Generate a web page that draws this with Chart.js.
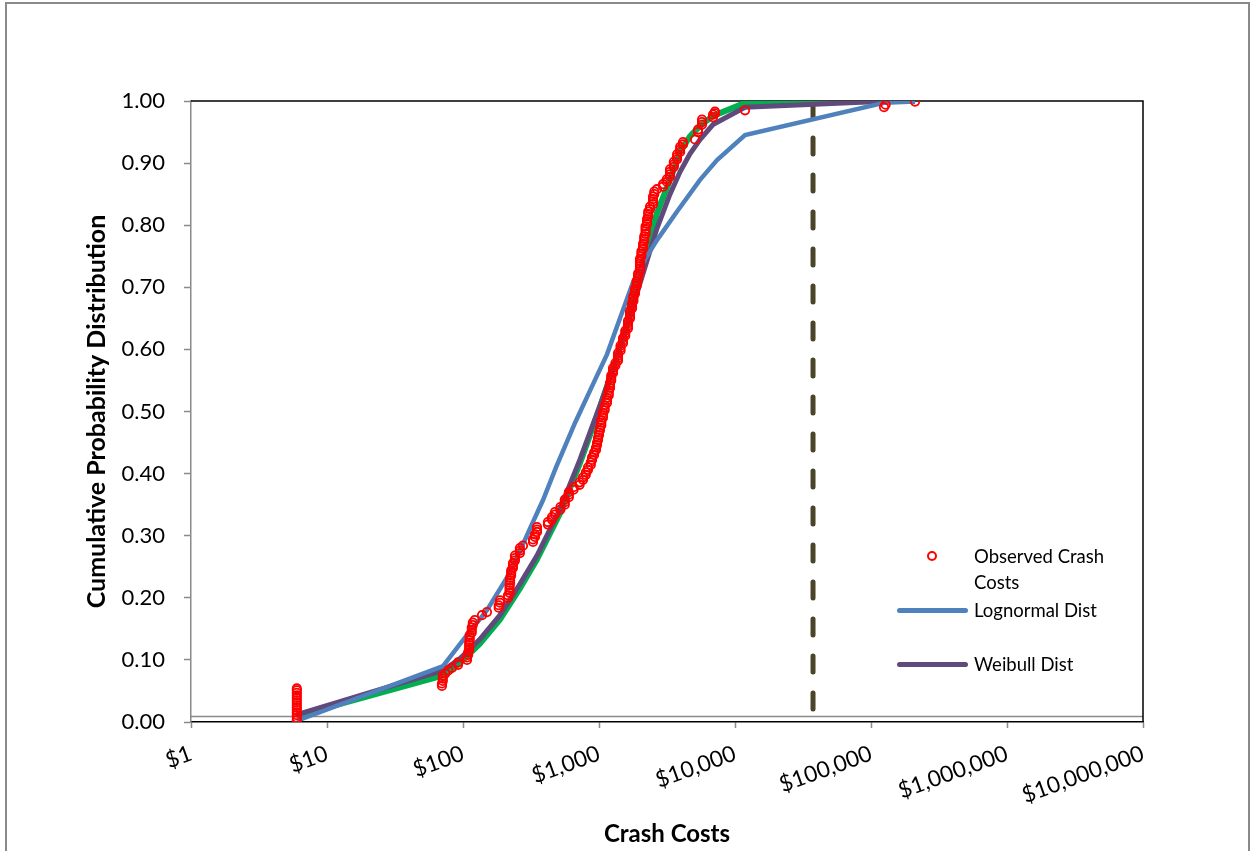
<!DOCTYPE html>
<html>
<head>
<meta charset="utf-8">
<script src="https://cdn.jsdelivr.net/npm/chart.js@4.4.1/dist/chart.umd.min.js"></script>
<style>
  html, body { margin: 0; padding: 0; background: #fff; }
  #wrap { position: relative; width: 1253px; height: 851px; overflow: hidden; font-family: Lato, "Open Sans", sans-serif; }
  #frame { position: absolute; left: 5px; top: 2px; width: 1245px; height: 900px; border: 2px solid #8a8a8a; box-sizing: border-box; pointer-events: none; }
  canvas { position: absolute; left: 0; top: 0; }
  .lg { position: absolute; font-size: 18.5px; color: #000; line-height: 26px; white-space: nowrap; }
  .sw { position: absolute; height: 5px; border-radius: 3px; }
  .dot { position: absolute; width: 6px; height: 6px; border: 2px solid #ff0000; border-radius: 50%; }
</style>
</head>
<body>
<div id="wrap">
  <canvas id="c" width="1253" height="851"></canvas>
  <div id="frame"></div>
  <div class="dot" style="left:927px; top:551px;"></div>
  <div class="lg" style="left:974px; top:543px;">Observed Crash<br>Costs</div>
  <div class="sw" style="left:897px; top:608px; width:71px; background:#4F81BD;"></div>
  <div class="lg" style="left:974px; top:597px;">Lognormal Dist</div>
  <div class="sw" style="left:897px; top:662px; width:71px; background:#604A7B;"></div>
  <div class="lg" style="left:974px; top:651px;">Weibull Dist</div>
</div>
<script>
// ---- tick values ----
const xTickValues = [1, 10, 100, 1000, 10000, 100000, 1000000, 10000000];

// ---- observed crash costs (sorted) ----
const obsCost = [
  6,6,6,6,6,6,6,6,6,6,6,6,6,6,
  70,70,71,71,71,74,78,83,92,92,107,107,109,109,
  111,111,111,111,112,112,112,116,116,116,118,118,122,138,150,
  183,183,187,187,214,214,220,220,220,220,222,222,222,226,226,226,
  233,233,233,241,241,241,262,262,262,276,327,327,338,338,350,350,350,
  421,421,451,451,474,474,520,520,560,560,560,600,600,600,650,650,
  720,720,763,763,800,800,830,830,870,870,889,889,920,920,950,950,
  967,967,984,984,1000,1000,1017,1017,1040,1040,1040,1069,1069,1069,
  1100,1100,1100,1145,1145,1145,1180,1180,1180,1205,1205,1205,1230,1230,1230,
  1268,1268,1268,1320,1320,1380,1380,1380,1380,1440,1440,1440,1501,1501,1501,
  1560,1560,1560,1634,1634,1634,1634,1690,1690,1690,1690,1749,1749,1749,
  1790,1790,1790,1840,1840,1840,1890,1890,1890,1936,1936,1936,
  2001,2001,2001,2001,2001,2001,2050,2050,2050,2107,2107,2107,2150,2150,2150,
  2200,2200,2200,2200,2254,2254,2254,2300,2300,2300,2371,2371,
  2495,2495,2495,2495,2550,2550,2669,2955,2955,3150,3150,
  3327,3327,3327,3327,3550,3550,3550,3749,3749,3749,3950,3950,3950,4148,4148,
  5084,5349,5349,5719,5719,5719,6890,6890,7129,7129,11850,124700,128000,210800
];
const obsProb = [
  0.003,0.007,0.011,0.015,0.019,0.023,0.027,0.031,0.035,0.039,0.043,0.047,0.051,0.054,
  0.058,0.062,0.066,0.070,0.074,0.078,0.083,0.087,0.092,0.096,0.100,0.104,0.108,0.112,
  0.116,0.120,0.124,0.128,0.132,0.136,0.140,0.144,0.148,0.152,0.156,0.160,0.164,0.172,0.177,
  0.184,0.188,0.192,0.196,0.200,0.204,0.208,0.212,0.216,0.220,0.224,0.228,0.232,0.236,0.240,0.244,
  0.248,0.252,0.256,0.260,0.264,0.268,0.272,0.276,0.280,0.284,0.290,0.294,0.298,0.302,0.306,0.310,0.314,
  0.318,0.322,0.326,0.330,0.334,0.338,0.342,0.346,0.350,0.354,0.358,0.362,0.366,0.370,0.374,0.378,
  0.382,0.386,0.390,0.394,0.398,0.402,0.406,0.410,0.414,0.418,0.422,0.426,0.430,0.434,0.438,0.442,
  0.446,0.450,0.454,0.458,0.462,0.466,0.470,0.474,0.478,0.482,0.486,0.490,0.494,0.498,
  0.502,0.506,0.510,0.514,0.518,0.522,0.526,0.530,0.534,0.538,0.542,0.546,0.550,0.554,0.558,
  0.562,0.566,0.570,0.574,0.578,0.582,0.586,0.590,0.594,0.598,0.602,0.606,0.610,0.614,0.618,
  0.622,0.626,0.630,0.634,0.638,0.642,0.646,0.650,0.654,0.658,0.662,0.666,0.670,0.674,
  0.678,0.682,0.686,0.690,0.694,0.698,0.702,0.706,0.710,0.714,0.718,0.722,
  0.726,0.730,0.734,0.738,0.742,0.746,0.750,0.754,0.758,0.762,0.766,0.770,0.774,0.778,0.782,
  0.786,0.790,0.794,0.798,0.802,0.806,0.810,0.814,0.818,0.822,0.826,0.830,
  0.834,0.838,0.842,0.846,0.850,0.854,0.858,0.862,0.866,0.870,0.874,
  0.878,0.882,0.886,0.890,0.894,0.898,0.902,0.906,0.910,0.914,0.918,0.922,0.926,0.930,0.934,
  0.938,0.950,0.954,0.962,0.966,0.970,0.974,0.978,0.980,0.983,0.985,0.990,0.994,0.999
];

// ---- fitted distributions ----
const lognormCost = [6,71.3,100,150,211,262,316,387,483,667,935,1145,1427,1778,2179,2669,3749,5530,7379,11850,124700,210800];
const lognormProb = [0.002,0.090,0.132,0.180,0.233,0.275,0.315,0.357,0.410,0.482,0.551,0.592,0.650,0.708,0.745,0.776,0.822,0.873,0.905,0.945,0.997,0.999];

const fitCost = [6,71.3,95,133,187,262,350,517,725,1017,1311,1607,2107,2669,3327,3945,4667,5530,6890,11850,124700,210800];
const gammaProb   = [0.010,0.075,0.095,0.126,0.165,0.215,0.262,0.336,0.417,0.507,0.578,0.643,0.739,0.820,0.873,0.918,0.943,0.960,0.976,0.997,1.000,1.000];
const weibullProb = [0.012,0.083,0.102,0.133,0.172,0.222,0.268,0.343,0.423,0.510,0.578,0.638,0.722,0.795,0.850,0.886,0.915,0.938,0.962,0.990,0.9995,1.000];

// ---- reference threshold (dashed vertical) ----
const thresholdCost = 37470;
const thresholdProb = [1, 0];

const pts = (xs, ys) => xs.map((x, i) => ({ x: x, y: ys[i] }));

const framePlugin = {
  id: 'frame',
  beforeDatasetsDraw(chart) {
    const { ctx, chartArea: a, scales } = chart;
    ctx.save();
    ctx.strokeStyle = '#8a8a8a';
    ctx.lineWidth = 1.5;
    const yg = Math.round(scales.y.getPixelForValue(0.0095)) + 0.5;
    ctx.beginPath(); ctx.moveTo(a.left, yg); ctx.lineTo(a.right, yg); ctx.stroke();
    ctx.strokeStyle = '#000';
    ctx.lineWidth = 1.5;
    ctx.beginPath();
    ctx.moveTo(a.left, a.top); ctx.lineTo(a.right, a.top); ctx.lineTo(a.right, a.bottom);
    ctx.stroke();
    ctx.restore();
  }
};

const FONT = 'Lato, "Open Sans", sans-serif';

new Chart(document.getElementById('c'), {
  type: 'scatter',
  data: {
    datasets: [
      { label: 'Observed Crash Costs', data: pts(obsCost, obsProb), showLine: false,
        pointStyle: 'circle', pointRadius: 4.2, pointBorderWidth: 1.8,
        borderColor: '#ff0000', backgroundColor: 'rgba(0,0,0,0)', order: 0 },
      { label: 'Lognormal Dist', data: pts(lognormCost, lognormProb), showLine: true,
        borderColor: '#4F81BD', borderWidth: 4.5, pointRadius: 0, tension: 0, order: 1 },
      { label: 'Weibull Dist', data: pts(fitCost, weibullProb), showLine: true,
        borderColor: '#604A7B', borderWidth: 5, pointRadius: 0, tension: 0, order: 2 },
      { label: 'Gamma Dist', data: pts(fitCost, gammaProb), showLine: true,
        borderColor: '#00B050', borderWidth: 6, pointRadius: 0, tension: 0, order: 3 },
      { label: 'Threshold', data: thresholdProb.map(p => ({ x: thresholdCost, y: p })), showLine: true,
        borderColor: '#4A452A', borderWidth: 5, borderDash: [16, 21], borderCapStyle: 'round',
        pointRadius: 0, order: 4 }
    ]
  },
  options: {
    responsive: false,
    animation: false,
    devicePixelRatio: 1,
    layout: { padding: { left: 82, top: 101, right: 110, bottom: 0 } },
    plugins: { legend: { display: false }, tooltip: { enabled: false } },
    scales: {
      x: {
        type: 'logarithmic', min: 1, max: 10000000,
        afterBuildTicks(s) { s.ticks = xTickValues.map(v => ({ value: v, major: true })); },
        afterFit(s) { s.height = 129; },
        ticks: {
          autoSkip: false, minRotation: 20, maxRotation: 20, padding: 12,
          color: '#000', font: { family: FONT, size: 22.5 },
          callback: (v) => '$' + Number(v).toLocaleString('en-US')
        },
        grid: { drawOnChartArea: false, drawTicks: true, tickLength: 6, tickColor: '#8a8a8a', tickWidth: 1.5 },
        border: { display: true, color: '#000', width: 1.5 },
        title: { display: true, text: 'Crash Costs', color: '#000',
          font: { family: FONT, size: 24, weight: 'bold' }, padding: { top: 0, bottom: 2 } }
      },
      y: {
        min: 0, max: 1,
        afterFit(s) { s.width = 109; },
        ticks: { stepSize: 0.1, padding: 19, color: '#000', font: { family: FONT, size: 22 },
          callback: (v) => Number(v).toFixed(2) },
        grid: { drawOnChartArea: false, drawTicks: true, tickLength: 7, tickColor: '#8a8a8a', tickWidth: 1.5 },
        border: { display: true, color: '#8a8a8a', width: 1.5 },
        title: { display: true, text: 'Cumulative Probability Distribution', color: '#000',
          font: { family: FONT, size: 25, weight: 'bold' }, padding: 0 }
      }
    }
  },
  plugins: [framePlugin]
});
</script>
</body>
</html>
